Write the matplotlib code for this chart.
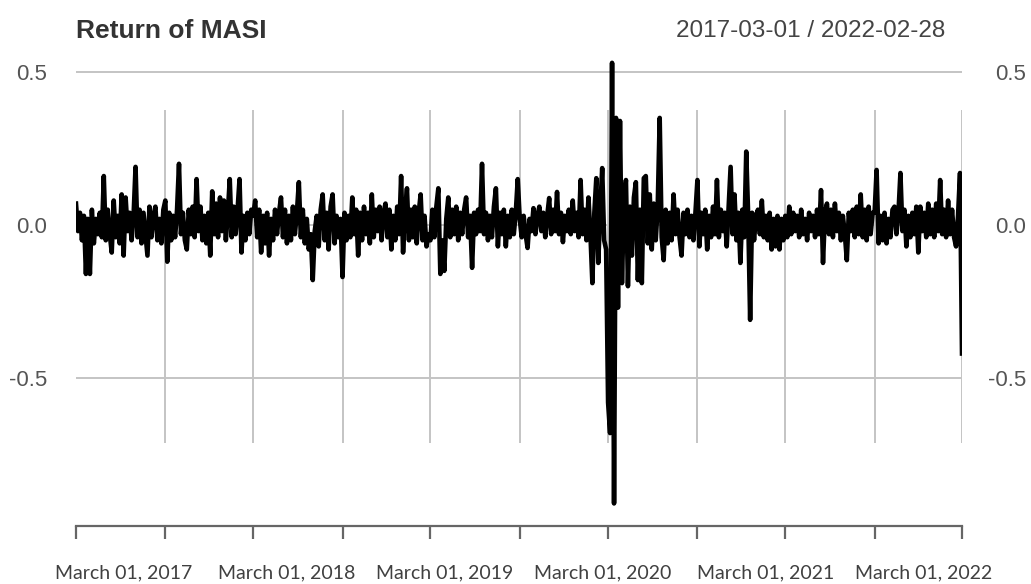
import numpy as np
import pandas as pd
import matplotlib
matplotlib.use("Agg")
import matplotlib.pyplot as plt
import matplotlib.dates as mdates
from matplotlib.transforms import ScaledTranslation

# half-year periods of the MASI return series (Mar 2017 .. Feb 2022)
bounds = ["2017-03-01", "2017-09-01", "2018-03-01", "2018-09-01", "2019-03-01",
          "2019-09-01", "2020-03-01", "2020-09-01", "2021-03-01", "2021-09-01",
          "2022-02-28"]

r_2017a = [0.07, -0.02, 0.04, -0.05, 0.03, -0.16, 0.02, -0.16, 0.05, -0.06,
           0.02, -0.03, 0.04, -0.04, 0.16, -0.05, 0.05, -0.03, -0.09, 0.08,
           -0.04, 0.03, -0.06, 0.10, -0.10, 0.09, -0.02, 0.04, -0.05, 0.03,
           0.19, -0.04, 0.05, -0.06, 0.04, -0.03, -0.10, 0.06, -0.04, 0.03,
           0.06, -0.05, 0.02, -0.06, 0.05]
r_2017b = [0.08, -0.12, 0.04, -0.05, 0.03, -0.04, 0.05, 0.20, -0.03, 0.04,
           -0.05, -0.08, 0.05, -0.03, 0.06, -0.04, 0.15, -0.02, 0.06, -0.05,
           0.03, -0.06, 0.04, -0.10, 0.11, -0.03, 0.07, -0.04, 0.09, -0.02,
           0.08, -0.05, 0.04, 0.15, -0.04, 0.06, -0.03, 0.05, 0.15, -0.09,
           0.03, -0.05, 0.04, -0.03, 0.05]
r_2018a = [0.03, 0.08, -0.04, 0.05, -0.09, 0.03, -0.06, 0.04, -0.10, 0.02,
           -0.05, 0.05, -0.03, 0.04, 0.09, -0.04, 0.05, -0.06, 0.03, -0.05,
           0.06, -0.03, 0.04, 0.14, -0.04, 0.05, -0.06, 0.02, -0.08, -0.03,
           -0.18, -0.02, 0.03, -0.07, 0.05, 0.10, -0.05, 0.04, -0.08, 0.06,
           0.10, -0.06, 0.03, -0.04, 0.02]
r_2018b = [-0.17, 0.04, -0.05, 0.03, -0.04, 0.09, -0.03, 0.05, -0.10, 0.04,
           -0.05, 0.06, -0.03, 0.04, -0.06, 0.10, -0.04, 0.05, -0.02, 0.06,
           -0.05, 0.04, 0.07, -0.04, 0.05, -0.08, 0.03, -0.05, 0.06, -0.03,
           0.16, -0.09, 0.04, 0.12, -0.05, 0.05, -0.04, 0.06, -0.06, 0.04,
           0.10, -0.05, 0.03, -0.07, -0.03]
r_2019a = [-0.05, 0.05, -0.04, 0.06, 0.12, -0.16, -0.05, -0.15, 0.02, 0.09,
           -0.04, 0.05, -0.03, 0.06, -0.05, 0.04, -0.03, 0.05, 0.09, -0.04,
           0.03, -0.14, 0.04, -0.03, 0.05, -0.02, 0.20, -0.03, 0.04, -0.05,
           0.03, -0.04, 0.06, 0.12, -0.07, 0.04, -0.03, 0.05, -0.07, 0.03,
           -0.04, 0.05, -0.03, 0.04, 0.15]
r_2019b = [0.02, -0.04, 0.03, -0.03, -0.075, 0.02, -0.02, 0.055, -0.03, 0.03,
           0.06, -0.02, 0.04, -0.04, 0.03, 0.088, -0.03, 0.05, -0.02, 0.108,
           -0.03, 0.04, -0.056, 0.03, -0.02, 0.05, -0.03, 0.08, -0.02, 0.04,
           -0.04, 0.147, -0.03, 0.05, -0.05, 0.09, -0.03, -0.19, 0.04, 0.153,
           -0.124, 0.05, 0.186, -0.05, -0.08]
r_2020a = [-0.58, -0.68, 0.53, -0.91, 0.35, -0.27, 0.34, -0.19, 0.08, 0.147,
           -0.20, 0.06, -0.10, 0.09, 0.14, -0.18, 0.05, -0.19, 0.153, 0.16,
           -0.06, 0.10, -0.08, 0.07, -0.05, 0.06, 0.35, -0.04, -0.115, 0.05,
           -0.06, 0.04, -0.05, 0.10, -0.03, 0.05, -0.04, -0.10, 0.04, -0.03,
           0.05, -0.04, 0.03, -0.05, 0.04]
r_2020b = [0.147, -0.07, 0.04, -0.03, 0.05, -0.08, 0.03, -0.04, 0.06, -0.03,
           0.147, -0.04, 0.05, -0.02, 0.04, -0.07, 0.06, 0.19, -0.03, 0.10,
           -0.05, 0.04, -0.124, 0.05, -0.04, 0.24, 0.03, -0.31, 0.04, -0.05,
           0.03, 0.05, -0.03, 0.08, -0.04, 0.03, -0.05, 0.04, -0.08, 0.02,
           -0.07, 0.03, -0.08, 0.02, -0.05]
r_2021a = [0.03, -0.04, 0.06, -0.03, 0.04, -0.02, 0.03, -0.04, 0.05, -0.03,
           0.02, -0.05, 0.04, -0.02, 0.03, -0.04, 0.05, -0.03, 0.114, -0.124,
           0.04, 0.07, -0.03, 0.05, -0.04, 0.07, -0.02, 0.04, -0.05, 0.03,
           -0.03, -0.115, 0.04, -0.02, 0.05, -0.04, 0.06, -0.03, 0.10, -0.04,
           0.05, -0.05, 0.06, -0.03, 0.04]
r_2021b = [0.04, 0.18, -0.06, 0.03, -0.05, 0.04, -0.06, 0.02, -0.04, 0.05,
           0.06, -0.03, 0.04, 0.17, -0.02, 0.05, -0.07, 0.03, -0.04, 0.04,
           -0.03, 0.06, -0.09, 0.06, -0.02, 0.04, -0.04, 0.07, -0.03, 0.05,
           -0.04, 0.07, -0.02, 0.147, -0.03, 0.05, -0.04, 0.08, -0.03, 0.05,
           -0.04, -0.07, 0.03, 0.17, -0.42]

periods = [r_2017a, r_2017b, r_2018a, r_2018b, r_2019a,
           r_2019b, r_2020a, r_2020b, r_2021a, r_2021b]

tick_labels = ["March 01, 2017", "March 01, 2018", "March 01, 2019",
               "March 01, 2020", "March 01, 2021", "March 01, 2022"]

# spread each period's values evenly across its dates
edges = mdates.date2num(pd.to_datetime(bounds))
xs = []
for k, vals in enumerate(periods):
    last = k == len(periods) - 1
    xs.append(np.linspace(edges[k], edges[k + 1], len(vals), endpoint=last))
x = np.concatenate(xs)
y = np.concatenate(periods)

W, H = 1031, 584
fig = plt.figure(figsize=(W / 100, H / 100), dpi=100)
ax = fig.add_axes([76 / W, 1 - 526 / H, 886 / W, (526 - 40) / H])

ax.set_xlim(edges[0], edges[-1])
ax.set_ylim(-0.9837, 0.6046)

grid_col = "#c4c4c4"
for lvl in (-0.5, 0.0, 0.5):
    ax.axhline(lvl, color=grid_col, lw=1.4, zorder=1)
ax.vlines(edges[1:], -0.712, 0.376, color=grid_col, lw=1.4, zorder=1)

ax.plot(x, y, color="black", lw=3.3, solid_joinstyle="round", zorder=3)

for side in ("top", "left", "right"):
    ax.spines[side].set_visible(False)
ax.spines["bottom"].set_color("#666666")
ax.spines["bottom"].set_linewidth(1.6)

ax.set_xticks(edges)
ax.set_xticklabels([])
ax.tick_params(axis="x", length=9.5, width=1.6, color="#666666", direction="out")

# y labels on both sides; the right ones end near the figure edge
ax.set_yticks([-0.5, 0.0, 0.5])
ax.set_yticklabels(["-0.5", "0.0", "0.5"])
ax.tick_params(axis="y", length=0, labelleft=True, labelright=True,
               labelsize=16, labelcolor="#555555", pad=21)
shift = ScaledTranslation(64 / 100, 0, fig.dpi_scale_trans)
for t in ax.yaxis.get_major_ticks():
    t.label1.set_fontfamily("Liberation Sans")
    t.label2.set_fontfamily("Liberation Sans")
    t.label2.set_horizontalalignment("right")
    t.label2.set_transform(ax.get_yaxis_transform() + shift)

fig.text(76 / W, 1 - 38 / H, "Return of MASI", fontsize=19, fontweight="bold",
         color="#333333", family="Liberation Sans", va="baseline", ha="left")
fig.text(945 / W, 1 - 37 / H, "2017-03-01 / 2022-02-28", fontsize=17.5,
         color="#444444", family="Liberation Sans", va="baseline", ha="right")

label_x = [124, 287, 445, 603, 766, 924]
for lx, lab in zip(label_x, tick_labels):
    fig.text(lx / W, 1 - 578 / H, lab, fontsize=14, color="#404040",
             family="Lato", ha="center", va="baseline")

fig.savefig("out.png", dpi=100)
